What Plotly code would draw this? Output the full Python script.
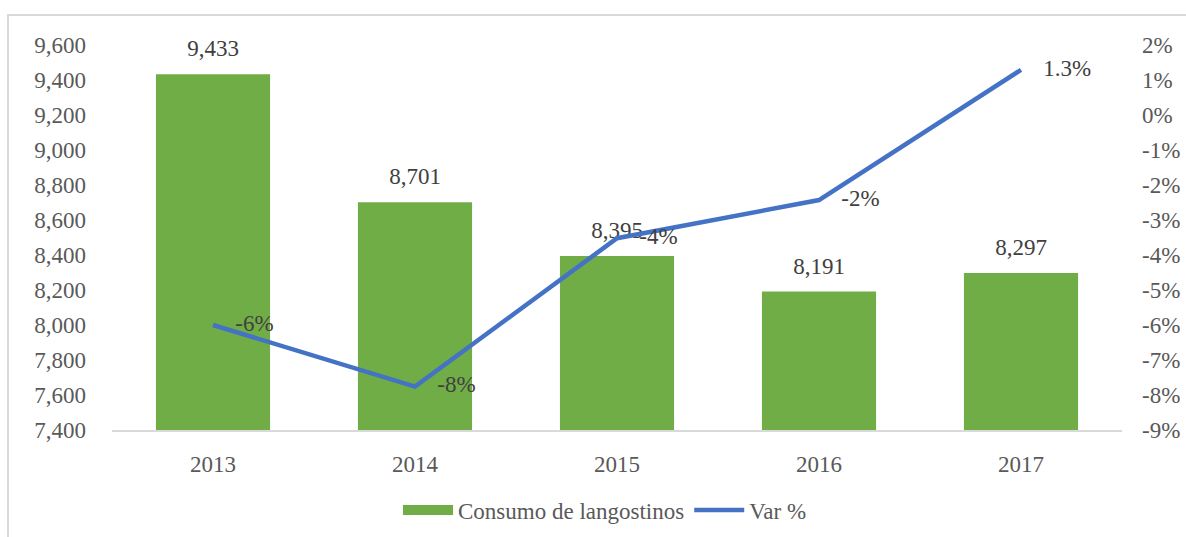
import plotly.graph_objects as go

# Data
years = ["2013", "2014", "2015", "2016", "2017"]
consumo = [9433, 8701, 8395, 8191, 8297]
var_pct = [-0.06, -0.0776, -0.0352, -0.0243, 0.0129]
var_fmt = ["%{y:.0%}", "%{y:.0%}", "%{y:.0%}", "%{y:.0%}", "%{y:.1%}"]

left_ticks = [7400, 7600, 7800, 8000, 8200, 8400, 8600, 8800, 9000, 9200, 9400, 9600]
right_ticks = [-0.09, -0.08, -0.07, -0.06, -0.05, -0.04, -0.03, -0.02, -0.01, 0.0, 0.01, 0.02]
right_labels = ["-9%", "-8%", "-7%", "-6%", "-5%", "-4%", "-3%", "-2%", "-1%", "0%", "1%", "2%"]

GREEN = "#70AD47"
BLUE = "#4472C4"
TEXT = "#595959"
LABEL = "#404040"
FONT = "Liberation Serif"

W, H = 1186, 537
L, R, T, B = 112, 64, 45, 107
plot_w = W - L - R
plot_h = H - T - B


def px_x(px):
    return (px - L) / plot_w


def px_y(py):
    return (H - B - py) / plot_h


fig = go.Figure()

# bars (legend entry drawn by the swatch trace below)
fig.add_trace(go.Bar(
    x=years, y=consumo, name="Consumo de langostinos",
    marker=dict(color=GREEN, line=dict(width=0)),
    showlegend=False, hoverinfo="x+y",
))

# value labels above the bars
fig.add_trace(go.Scatter(
    x=years, y=consumo, mode="markers+text",
    marker=dict(size=18, color="rgba(0,0,0,0)"),
    texttemplate="%{y:,}", textposition="top center",
    textfont=dict(family=FONT, size=23, color=LABEL),
    showlegend=False, hoverinfo="skip", cliponaxis=False,
))

# rectangular legend swatch for the bar series
fig.add_trace(go.Scatter(
    x=years, y=[None] * len(years), mode="lines",
    name="Consumo de langostinos",
    line=dict(color=GREEN, width=12),
    hoverinfo="skip",
))

fig.add_trace(go.Scatter(
    x=years, y=var_pct, name="Var %", yaxis="y2",
    mode="lines+markers+text",
    line=dict(color=BLUE, width=4.5),
    marker=dict(size=34, color="rgba(0,0,0,0)"),
    texttemplate=var_fmt, textposition="middle right",
    textfont=dict(family=FONT, size=23, color=LABEL),
    cliponaxis=False,
))

fig.update_layout(
    width=W, height=H,
    margin=dict(l=L, r=R, t=T, b=B, autoexpand=False),
    paper_bgcolor="white", plot_bgcolor="white",
    font=dict(family=FONT, size=23, color=TEXT),
    bargap=0.435,
    showlegend=True,
    legend=dict(orientation="h", x=px_x(605), xanchor="center", y=px_y(510), yanchor="middle",
                font=dict(family=FONT, size=23, color=TEXT), itemwidth=50,
                tracegroupgap=0),
    xaxis=dict(
        showgrid=False, showline=True, linecolor="#D9D9D9", linewidth=2,
        ticks="", ticklabelstandoff=12, automargin=False,
        tickfont=dict(family=FONT, size=23, color=TEXT),
    ),
    yaxis=dict(
        range=[7400, 9600], tickvals=left_ticks, tickformat=",",
        showgrid=False, zeroline=False, showline=False, ticks="",
        ticklabelstandoff=25, automargin=False,
        tickfont=dict(family=FONT, size=23, color=TEXT),
    ),
    yaxis2=dict(
        overlaying="y", side="right",
        range=[-0.09, 0.02], tickvals=right_ticks, ticktext=right_labels,
        showgrid=False, zeroline=False, showline=False, ticks="",
        ticklabelstandoff=19, automargin=False,
        tickfont=dict(family=FONT, size=23, color=TEXT),
    ),
    shapes=[dict(
        type="rect", xref="paper", yref="paper",
        x0=px_x(8), x1=px_x(1200), y0=px_y(560), y1=px_y(15),
        line=dict(color="#D9D9D9", width=2), fillcolor="rgba(0,0,0,0)", layer="below",
    )],
)

fig.write_html("out.html")
